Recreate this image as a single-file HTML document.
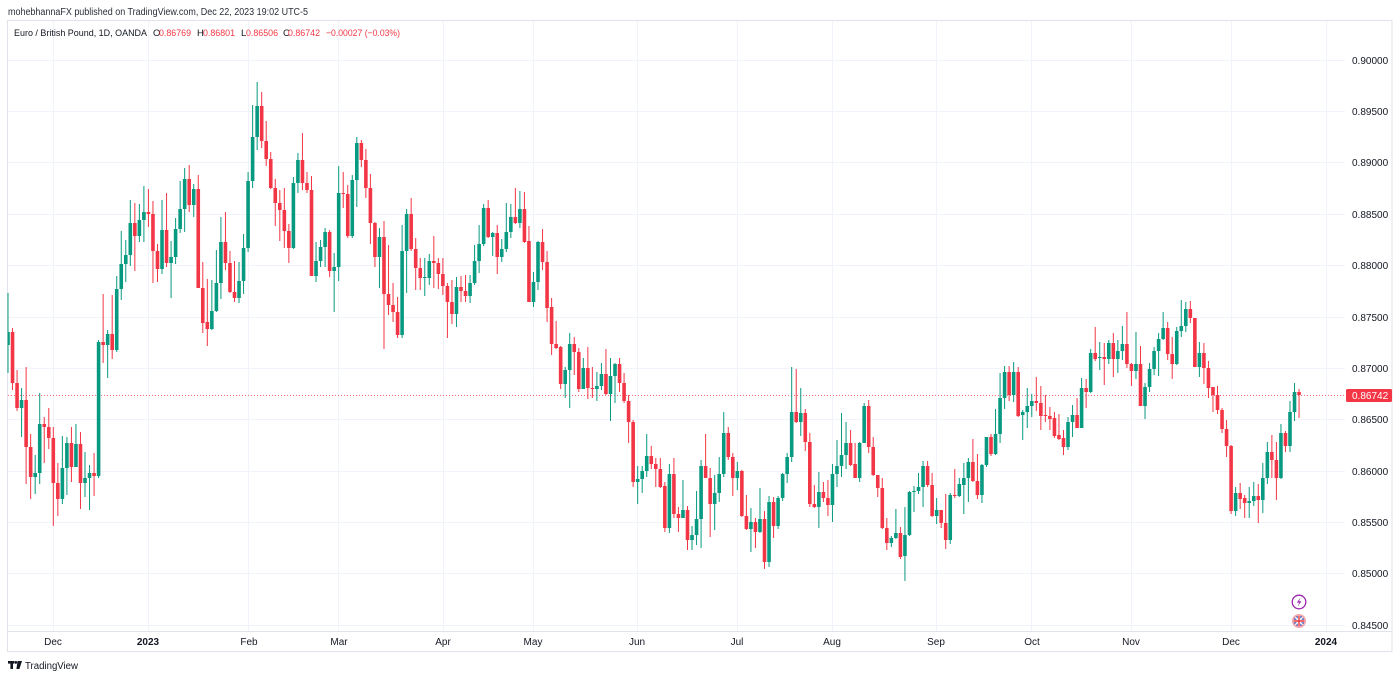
<!DOCTYPE html>
<html><head><meta charset="utf-8">
<style>
html,body{margin:0;padding:0;background:#fff;width:1400px;height:679px;overflow:hidden;font-family:"Liberation Sans",Arial,sans-serif;color:#131722}
svg{position:absolute;left:0;top:0;display:block}
</style></head><body>
<svg id="c" width="1400" height="679" viewBox="0 0 1400 679" xmlns="http://www.w3.org/2000/svg" font-family="Liberation Sans, Arial, sans-serif">
<defs><clipPath id="clip"><rect x="7.5" y="21" width="1337.5" height="610"/></clipPath></defs>
<rect x="0" y="0" width="1400" height="679" fill="#fff"/>
<!-- horizontal grid -->
<g stroke="#f0f3fa" stroke-width="1">
<line x1="8" x2="1345" y1="60.5" y2="60.5"/>
<line x1="8" x2="1345" y1="111.5" y2="111.5"/>
<line x1="8" x2="1345" y1="162.5" y2="162.5"/>
<line x1="8" x2="1345" y1="214.5" y2="214.5"/>
<line x1="8" x2="1345" y1="265.5" y2="265.5"/>
<line x1="8" x2="1345" y1="317.5" y2="317.5"/>
<line x1="8" x2="1345" y1="368.5" y2="368.5"/>
<line x1="8" x2="1345" y1="419.5" y2="419.5"/>
<line x1="8" x2="1345" y1="471.5" y2="471.5"/>
<line x1="8" x2="1345" y1="522.5" y2="522.5"/>
<line x1="8" x2="1345" y1="573.5" y2="573.5"/>
<line x1="8" x2="1345" y1="625.5" y2="625.5"/>
</g>
<!-- vertical grid -->
<g stroke="#f0f3fa" stroke-width="1">
<line x1="53.5" x2="53.5" y1="21" y2="631"/>
<line x1="148.5" x2="148.5" y1="21" y2="631"/>
<line x1="248.5" x2="248.5" y1="21" y2="631"/>
<line x1="338.5" x2="338.5" y1="21" y2="631"/>
<line x1="443.5" x2="443.5" y1="21" y2="631"/>
<line x1="533.5" x2="533.5" y1="21" y2="631"/>
<line x1="637.5" x2="637.5" y1="21" y2="631"/>
<line x1="737.5" x2="737.5" y1="21" y2="631"/>
<line x1="832.5" x2="832.5" y1="21" y2="631"/>
<line x1="936.5" x2="936.5" y1="21" y2="631"/>
<line x1="1031.5" x2="1031.5" y1="21" y2="631"/>
<line x1="1131.5" x2="1131.5" y1="21" y2="631"/>
<line x1="1231.5" x2="1231.5" y1="21" y2="631"/>
<line x1="1326.5" x2="1326.5" y1="21" y2="631"/>
</g>
<!-- pane borders -->
<g stroke="#e0e3eb" stroke-width="1" fill="none">
<rect x="7.5" y="20.5" width="1384.5" height="631"/>
<line x1="7.5" x2="1392" y1="631.5" y2="631.5"/>
</g>
<!-- last price dotted line -->
<line x1="8" x2="1345" y1="395.5" y2="395.5" stroke="#F23645" stroke-width="1" stroke-dasharray="1 2" opacity="0.75"/>
<g id="candles" clip-path="url(#clip)"></g>
<!-- price axis labels -->
<g font-size="10" fill="#131722">
<text x="1352" y="64">0.90000</text>
<text x="1352" y="115">0.89500</text>
<text x="1352" y="166">0.89000</text>
<text x="1352" y="218">0.88500</text>
<text x="1352" y="269">0.88000</text>
<text x="1352" y="321">0.87500</text>
<text x="1352" y="372">0.87000</text>
<text x="1352" y="423">0.86500</text>
<text x="1352" y="475">0.86000</text>
<text x="1352" y="526">0.85500</text>
<text x="1352" y="577">0.85000</text>
<text x="1352" y="629">0.84500</text>
</g>
<rect x="1346" y="389" width="46" height="13" rx="1.5" fill="#F23645"/>
<text x="1352" y="399" font-size="10" fill="#fff">0.86742</text>
<!-- time axis labels -->
<g font-size="10" fill="#131722" text-anchor="middle">
<text x="53" y="645">Dec</text>
<text x="148" y="645" font-weight="bold">2023</text>
<text x="249" y="645">Feb</text>
<text x="339" y="645">Mar</text>
<text x="443" y="645">Apr</text>
<text x="533" y="645">May</text>
<text x="637" y="645">Jun</text>
<text x="737" y="645">Jul</text>
<text x="832" y="645">Aug</text>
<text x="936" y="645">Sep</text>
<text x="1032" y="645">Oct</text>
<text x="1131" y="645">Nov</text>
<text x="1231" y="645">Dec</text>
<text x="1326" y="645" font-weight="bold">2024</text>
</g>
<!-- header -->
<text x="8" y="15" font-size="10" fill="#2a2e39" textLength="300" lengthAdjust="spacingAndGlyphs">mohebhannaFX published on TradingView.com, Dec 22, 2023 19:02 UTC-5</text>
<g font-size="9.5" fill="#131722">
<text x="14" y="36" textLength="133" lengthAdjust="spacingAndGlyphs">Euro / British Pound, 1D, OANDA</text>
<text x="153" y="36">O</text><text x="159" y="36" fill="#F23645" textLength="32" lengthAdjust="spacingAndGlyphs">0.86769</text>
<text x="197" y="36">H</text><text x="203" y="36" fill="#F23645" textLength="32" lengthAdjust="spacingAndGlyphs">0.86801</text>
<text x="241" y="36">L</text><text x="246" y="36" fill="#F23645" textLength="32" lengthAdjust="spacingAndGlyphs">0.86506</text>
<text x="283" y="36">C</text><text x="288" y="36" fill="#F23645" textLength="32" lengthAdjust="spacingAndGlyphs">0.86742</text>
<text x="326" y="36" fill="#F23645" textLength="74" lengthAdjust="spacingAndGlyphs">−0.00027 (−0.03%)</text>
</g>
<!-- icons -->
<g>
<circle cx="1299" cy="602" r="6.8" fill="#fff" stroke="#9c27b0" stroke-width="1.3"/>
<path d="M1300.6 597.5 L1296.8 602.6 L1299.2 602.6 L1297.6 606.6 L1301.4 601.3 L1299 601.3 Z" fill="#9c27b0"/>
<circle cx="1299" cy="621" r="7" fill="#f8a5ac"/>
<circle cx="1299" cy="621" r="5.3" fill="#3f5bb0"/>
<path d="M1295.3 617.3 L1302.7 624.7 M1302.7 617.3 L1295.3 624.7" stroke="#fff" stroke-width="1.4"/>
<path d="M1293.7 621 H1304.3 M1299 615.7 V626.3" stroke="#fff" stroke-width="2.6"/>
<path d="M1293.7 621 H1304.3 M1299 615.7 V626.3" stroke="#e8333f" stroke-width="1.4"/>
</g>
<!-- TradingView logo -->
<g fill="#131722">
<rect x="8" y="661" width="6.2" height="2.6"/>
<rect x="10.4" y="661" width="2.6" height="8"/>
<circle cx="15.8" cy="662.4" r="1.4"/>
<path d="M17.6 661 H22 L19.4 669 H16.4 Z"/>
</g>
<text x="25" y="669" font-size="10" fill="#131722" textLength="53" lengthAdjust="spacingAndGlyphs">TradingView</text>
</svg>
<script>
var D=[
345,332,293,373, 332,383,328,390, 383,408,370,411, 408,400,388,437, 400,447,367,484,
447,477,434,499, 477,473,455,494, 473,424,393,484, 424,427,417,463, 427,438,408,449,
438,483,427,526, 483,499,463,516, 499,468,436,504, 468,443,437,495, 443,467,427,482,
467,444,424,467, 444,483,432,509, 483,478,452,497, 478,473,465,510, 473,476,453,496,
476,342,340,478, 342,345,294,363, 345,334,330,378, 334,350,295,359, 350,289,276,352,
289,264,231,300, 264,255,240,282, 255,223,200,266, 223,236,203,271, 236,220,204,242,
220,212,186,242, 212,214,189,227, 214,251,201,283, 251,269,244,282, 269,230,200,274,
230,263,193,267, 263,257,241,298, 257,229,218,264, 229,209,181,233, 209,179,168,232,
179,205,165,212, 205,189,184,217, 189,288,175,288, 288,323,262,333, 322,329,279,346,
329,311,280,330, 311,283,250,312, 283,242,217,299, 242,263,212,270, 263,292,251,293,
292,298,261,302, 298,281,262,303, 281,248,234,294, 248,181,172,252, 181,137,105,188,
137,106,82,150, 106,141,92,148, 141,159,121,166, 159,188,152,189, 188,203,179,226,
203,210,190,241, 210,231,188,248, 231,248,224,263, 248,183,177,249, 183,160,153,193,
160,183,133,190, 183,190,172,193, 190,276,176,276, 276,261,242,282, 261,247,240,267,
247,232,228,267, 232,271,230,277, 271,267,253,312, 267,193,166,281, 193,194,172,208,
194,236,185,238, 236,180,175,238, 180,143,137,207, 143,160,140,167, 160,188,149,198,
188,223,174,244, 223,257,222,267, 257,237,228,288, 237,294,221,349, 294,305,245,315,
305,312,283,322, 312,335,297,338, 335,251,225,338, 251,214,209,293, 214,249,198,251,
249,268,238,290, 268,278,258,290, 278,277,258,296, 278,261,254,285, 261,263,236,288,
263,274,258,289, 274,286,258,295, 286,302,283,338, 302,314,280,324, 314,287,277,327,
287,291,276,302, 291,296,275,302, 296,283,275,303, 283,261,245,285, 261,244,225,273,
244,208,204,246, 208,237,200,238, 237,233,232,256, 233,257,225,274, 257,249,239,262,
249,232,203,252, 232,217,204,238, 217,223,188,224, 223,209,191,228, 209,242,192,243,
241,302,226,302, 302,282,272,307, 282,242,241,290, 242,262,229,270, 262,308,251,322,
307,344,298,355, 344,348,321,349, 347,384,346,389, 384,370,367,398, 370,344,333,408,
344,352,337,375, 352,389,348,392, 389,368,358,389, 368,388,347,399, 388,389,367,398,
389,386,372,401, 386,374,363,390, 374,394,349,395, 394,376,358,421, 376,364,363,403,
364,383,358,392, 383,401,373,403, 401,422,395,443, 422,482,420,487, 482,479,466,504,
479,471,466,493, 471,456,434,477, 456,464,446,469, 464,469,458,487, 469,487,458,488,
486,528,482,532, 528,474,464,533, 474,514,458,518, 514,518,507,532, 518,510,480,518,
510,540,506,550, 540,535,526,550, 535,519,491,545, 519,466,460,548, 466,478,434,478,
478,504,468,537, 504,493,475,530, 493,474,457,502, 474,433,412,477, 433,457,427,460,
457,478,453,496, 478,471,462,490, 471,516,470,517, 516,529,495,530, 529,522,508,552,
522,532,518,548, 532,519,488,533, 519,562,511,569, 562,502,496,567, 502,526,497,538,
526,498,496,529, 498,474,473,501, 474,457,453,483, 457,412,367,462, 412,422,369,423,
422,413,388,436, 413,442,409,451, 442,504,433,507, 504,507,485,508, 507,492,472,528,
492,498,482,502, 498,505,480,516, 505,474,464,522, 474,466,440,487, 466,455,413,477,
455,443,422,469, 443,465,430,466, 464,478,443,478, 478,443,442,482, 443,406,403,443,
406,447,400,453, 447,475,437,476, 475,488,475,497, 488,528,478,529, 528,543,518,550,
543,538,536,547, 538,533,509,539, 533,557,527,559, 556,535,507,581, 535,492,491,536,
492,491,486,512, 491,487,473,494, 487,466,461,507, 466,485,461,487, 485,516,473,517,
516,510,498,524, 510,523,510,528, 523,540,494,549, 540,495,493,544, 495,496,469,498,
496,484,478,497, 485,478,463,514, 478,462,458,502, 462,481,439,482, 481,495,454,499,
495,465,464,503, 465,437,437,467, 437,454,434,456, 454,434,409,455, 434,398,373,443,
398,372,366,409, 372,395,366,401, 395,372,362,402, 372,416,367,417, 415,412,410,440,
412,406,388,428, 406,401,394,417, 401,403,377,411, 403,416,386,430, 415,416,395,422,
416,419,407,430, 418,436,412,438, 435,439,414,440, 438,447,430,455, 447,422,417,450,
422,415,405,437, 415,428,398,428, 428,388,378,428, 388,392,379,408, 392,353,349,393,
353,359,327,361, 358,357,342,370, 357,359,343,385, 359,343,340,364, 343,359,333,377,
359,351,340,373, 351,344,326,360, 344,364,312,368, 364,371,363,386, 371,364,332,379,
364,406,346,406, 406,387,383,419, 387,369,363,392, 369,351,347,375, 351,339,333,376,
339,328,312,340, 328,354,322,360, 354,364,337,379, 364,331,327,365, 331,326,300,337,
326,309,302,332, 309,318,301,323, 318,367,318,367, 367,353,342,377, 353,368,343,384,
368,388,361,398, 387,395,387,412, 395,410,386,414, 410,429,408,433, 429,446,420,457,
446,511,445,514, 511,493,487,516, 493,499,483,509, 498,503,495,518, 503,501,487,518,
501,496,482,506, 496,500,484,523, 500,478,463,513, 478,452,442,484, 452,460,435,478,
460,478,442,500, 478,433,424,479, 433,446,431,452, 446,412,401,452, 412,392,383,421,
392,395,389,418
];
(function(){
var g=document.getElementById('candles'),ns='http://www.w3.org/2000/svg';
var n=D.length/4;
for(var i=0;i<n;i++){
var o=D[4*i],c=D[4*i+1],h=D[4*i+2],l=D[4*i+3];
var x=8+4.53*i;
var col=(c<=o)?'#089981':'#F23645';
var w=document.createElementNS(ns,'rect');
w.setAttribute('x',(x-0.5).toFixed(2));w.setAttribute('y',h);
w.setAttribute('width','1');w.setAttribute('height',Math.max(1,l-h));
w.setAttribute('fill',col);g.appendChild(w);
var t=Math.min(o,c),bh=Math.max(1,Math.abs(o-c));
var b=document.createElementNS(ns,'rect');
b.setAttribute('x',(x-1.8).toFixed(2));b.setAttribute('y',t);
b.setAttribute('width','3.6');b.setAttribute('height',bh);
b.setAttribute('fill',col);g.appendChild(b);
}
})();
</script>
</body></html>
